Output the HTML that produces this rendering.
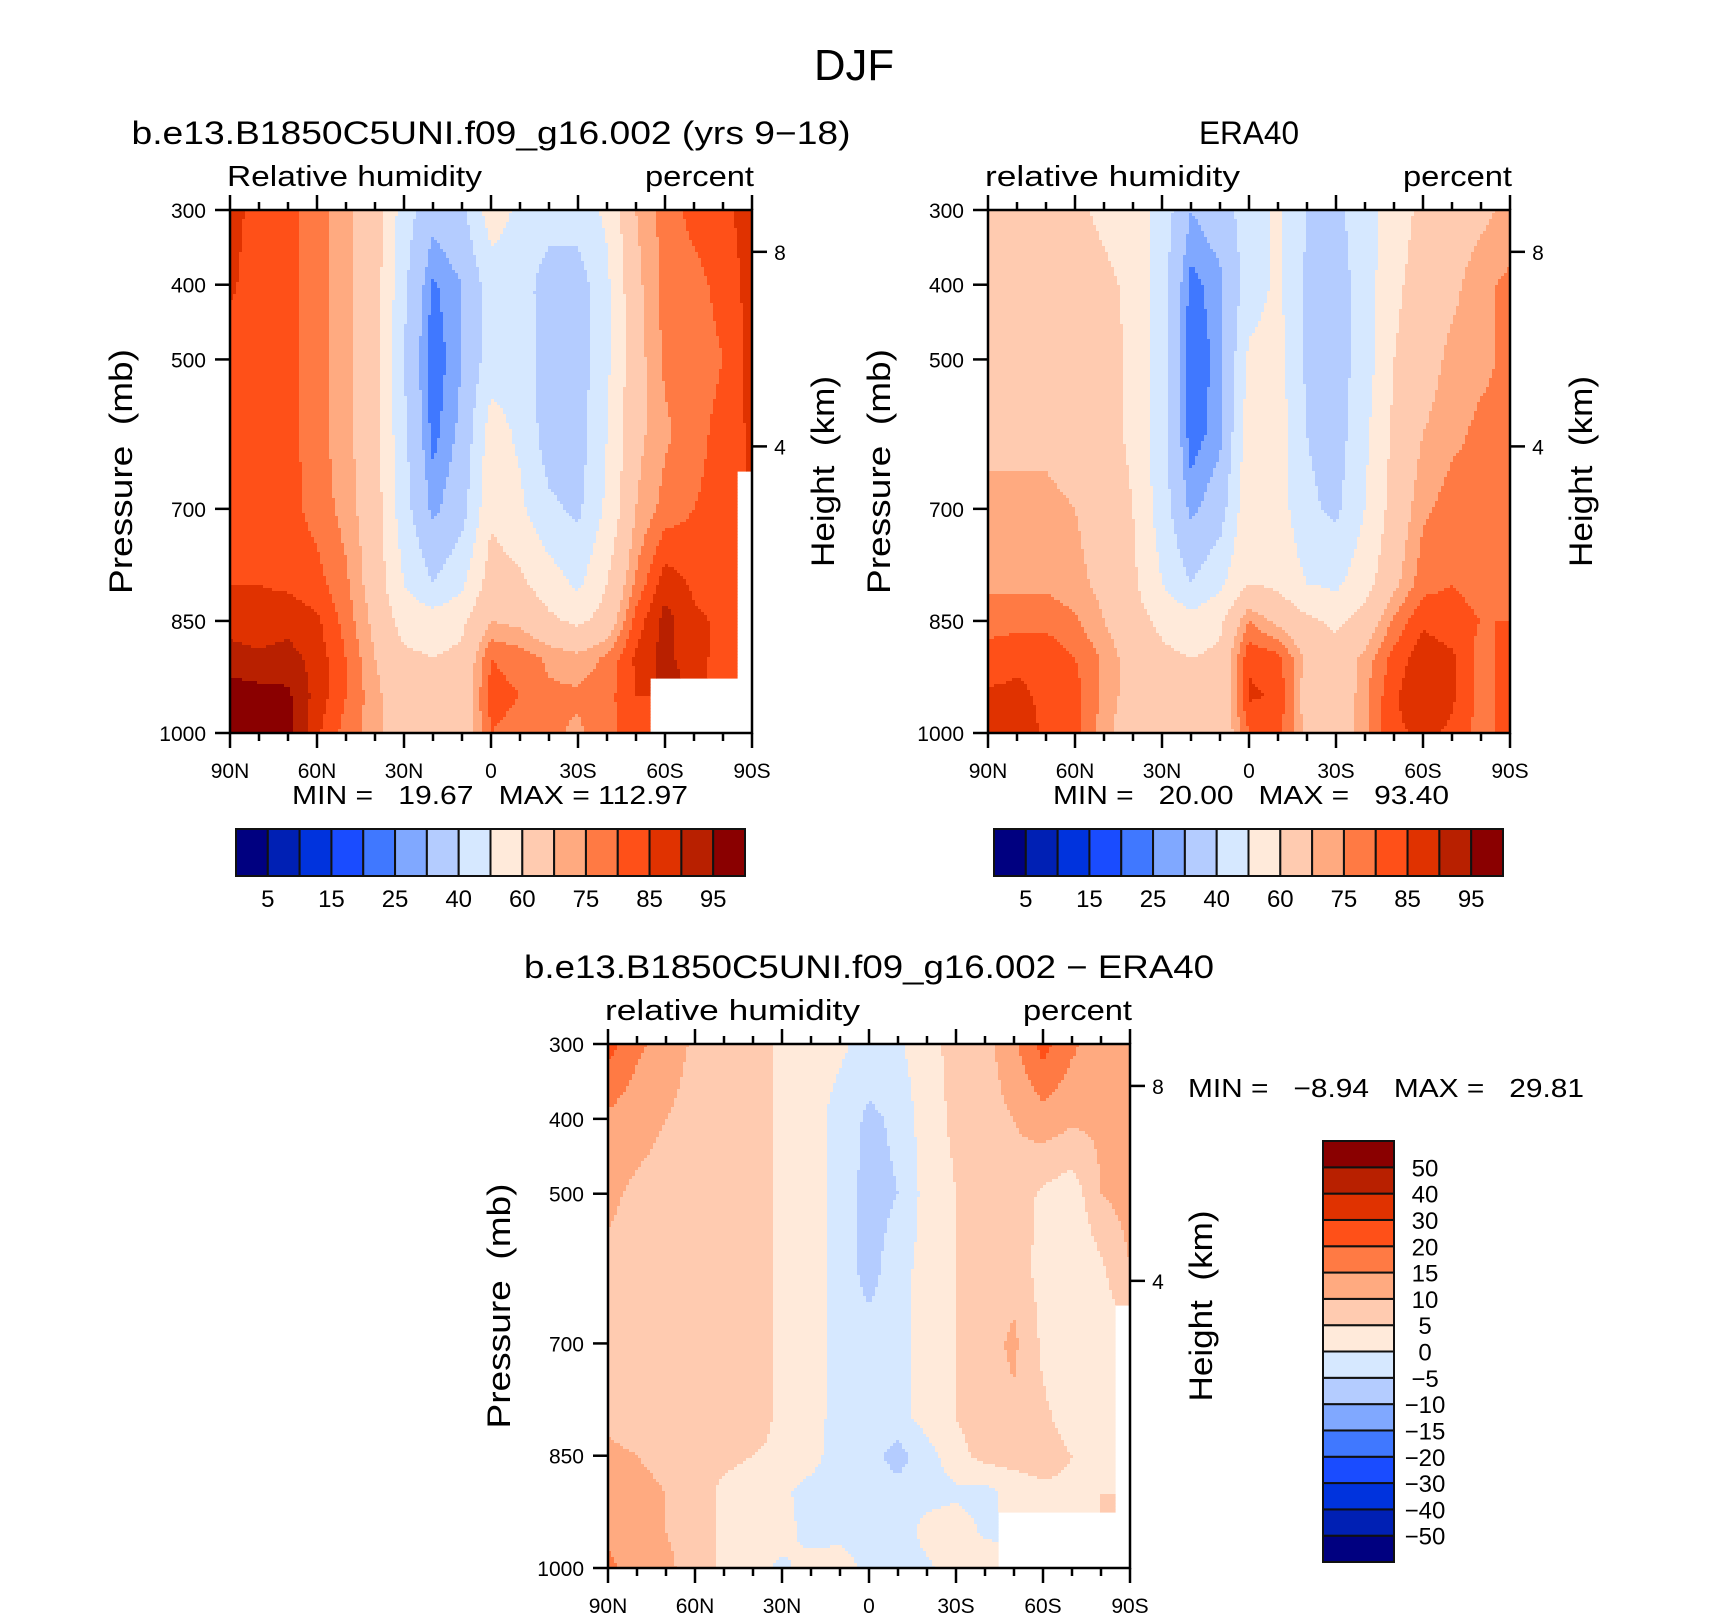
<!DOCTYPE html>
<html><head><meta charset="utf-8">
<style>
html,body{margin:0;padding:0;background:#fff;}
svg{display:block;font-family:"Liberation Sans",sans-serif;}
text{white-space:pre;}
</style></head>
<body>
<svg id="fig" xmlns="http://www.w3.org/2000/svg" width="1710" height="1616" viewBox="0 0 1710 1616">
<rect width="1710" height="1616" fill="#fff"/>
<text x="854" y="80" font-size="44" text-anchor="middle" textLength="80" lengthAdjust="spacingAndGlyphs">DJF</text>
<g id="p1"></g>
<g id="p2"></g>
<g id="p3"></g>
</svg>
<script>
// ---- data ----
const lats = [90,80,70,60,50,40,30,20,10,0,-10,-20,-30,-40,-50,-60,-70,-80,-90];
const plevs = [300,400,500,600,700,800,850,900,950,1000];
const model = [
 [87,83,82,77,72,65,45,33,38,55,48,45,45,52,70,77,82,84,87],
 [86,82,82,77,72,65,42,24,30,45,45,35,35,48,68,77,78,82,87],
 [82,82,82,77,72,64,40,21,30,45,45,35,35,48,67,76,77,80,87],
 [82,82,82,77,72,64,42,23,32,55,48,35,35,50,68,74,78,82,86],
 [82,82,82,78,73,65,44,28,36,58,52,42,38,52,70,77,80,82,null],
 [85,85,84,82,76,66,50,40,48,65,62,55,48,60,76,88,84,83,null],
 [88,87,88,86,78,68,56,55,58,70,68,62,58,64,82,92,86,84,null],
 [92,91,92,88,80,70,62,60,62,80,78,74,72,76,86,92,86,84,null],
 [98,97,96,88,80,72,64,62,64,82,80,76,76,78,85,null,null,null,null],
 [98,98,97,86,78,72,65,62,64,80,78,76,74,78,84,null,null,null,null]
];
const era = [
 [65,65,65,62,58,55,46,30,35,45,52,40,38,45,56,62,65,68,72],
 [65,65,65,65,62,58,44,23,28,45,52,38,35,45,58,64,68,74,76],
 [66,66,66,66,64,58,44,21,27,52,54,38,35,45,60,66,72,74,76],
 [68,68,68,66,64,58,44,22,28,56,55,40,35,48,62,70,74,76,76],
 [72,72,72,70,66,60,45,28,35,58,55,42,38,50,64,74,77,76,78],
 [74,74,74,72,68,62,50,40,48,60,58,50,48,56,68,78,80,78,80],
 [78,78,78,76,70,64,58,54,58,75,68,62,58,64,76,84,82,80,80],
 [82,84,84,80,74,66,62,60,62,84,82,68,64,72,82,88,86,78,82],
 [86,86,84,82,74,66,62,60,62,86,84,66,62,74,84,90,86,78,82],
 [90,88,84,82,72,65,62,62,62,80,82,68,62,74,84,86,84,78,82]
];
const diff = [
 [22,16,13,9,8,7,4,3,1,-2,-1,4,6,8,14,22,16,12,12],
 [14,12,10,8,7,7,4,2,-2,-6,-4,3,6,8,10,13,11,11,12],
 [11,9,8,7,7,7,4,2,-2,-7,-5,2,5,6,8,4,2,10,12],
 [9,8,8,7,7,7,4,2,-2,-7,-2,2,5,6,8,3,0,4,10],
 [8,7,7,7,7,7,4,2,-2,-3,-2,2,5,8,11,4,0,2,null],
 [9,8,8,7,7,7,4,2,-2,-3,-2,2,5,8,9,6,3,4,null],
 [11,10,9,8,6,5,4,2,-3,-3,-7,-2,3,7,7,7,5,4,null],
 [12,11,10,7,4,3,1,-2,-3,-3,-3,-2,-1,-2,2,4,4,5,null],
 [14,12,10,8,4,2,2,-2,-2,-3,-3,2,3,-1,null,null,null,null,null],
 [16,13,11,8,4,2,-1,2,3,-2,-3,-1,3,4,null,null,null,null,null]
];
const rhLevels = [5,10,15,20,25,30,40,50,60,70,75,80,85,90,95];
const rhLabels = ["5","15","25","40","60","75","85","95"];
const dLevels = [-50,-40,-30,-20,-15,-10,-5,0,5,10,15,20,30,40,50];
const dLabels = ["50","40","30","20","15","10","5","0","\u22125","\u221210","\u221215","\u221220","\u221230","\u221240","\u221250"];
const latTicks = [90,60,30,0,-30,-60,-90];
const latTickLabels = ["90N","60N","30N","0","30S","60S","90S"];
const pTicks = [300,400,500,700,850,1000];
const hTicks = [8,4];
const colors = ["#000080","#0020b4","#0033dd","#1a4cff","#4078ff","#80a8ff","#b4ccff","#d6e8ff","#ffeada","#ffcbb0","#ffaa80","#ff7a44","#ff5018","#e03200","#b82000","#8a0000"];

const NS = "http://www.w3.org/2000/svg";
function mk(parent, tag, attrs, txt){
  const e = document.createElementNS(NS, tag);
  for (const k in attrs) e.setAttribute(k, attrs[k]);
  if (txt !== undefined) e.textContent = txt;
  parent.appendChild(e); return e;
}
function colorIdx(v, lev){ let i=0; while(i<lev.length && v>=lev[i]) i++; return i; }
function sample(grid, lat, p){
  let j=0; while(j<lats.length-2 && lat < lats[j+1]) j++;
  let i=0; while(i<plevs.length-2 && p > plevs[i+1]) i++;
  const tx=(lats[j]-lat)/(lats[j]-lats[j+1]);
  const ty=(p-plevs[i])/(plevs[i+1]-plevs[i]);
  const nj = tx<0.5?j:j+1, ni = ty<0.5?i:i+1;
  if (grid[ni][nj]===null) return null;
  const g=(a,b)=>{const v=grid[a][b]; return v===null?grid[ni][nj]:v;};
  const a=g(i,j), b=g(i,j+1), c=g(i+1,j), d=g(i+1,j+1);
  return (a*(1-tx)+b*tx)*(1-ty)+(c*(1-tx)+d*tx)*ty;
}
function txt(g, attrs, s, name, len){
  const t = mk(g,'text',attrs,s);
  if (len){ t.setAttribute('textLength',len); t.setAttribute('lengthAdjust','spacingAndGlyphs'); }
  
  
  return t;
}

function panel(gid, box, grid, lev, title, left, mm){
  const g = document.getElementById(gid);
  const {x0,x1,y0,y1} = box;
  const X = lat => x0 + (90-lat)/180*(x1-x0);
  const Y = p => y0 + (p-300)/700*(y1-y0);
  const field = mk(g,'g',{});
  
  
  const step=3;
  for (let y=y0; y<y1; y+=step){
    const p = 300 + (y+step/2-y0)/(y1-y0)*700;
    let runStart=x0, runC=null;
    const flush=(xe)=>{ if(runC!==null){ const r=mk(field,'rect',{x:runStart,y:y,width:xe-runStart+0.6,height:Math.min(step,y1-y)+0.6,fill:runC});
        
         } };
    for (let x=x0; x<x1; x+=step){
      const lat = 90 - (x+step/2-x0)/(x1-x0)*180;
      const v = sample(grid, lat, p);
      const c = v===null?null:colors[colorIdx(v,lev)];
      if (c!==runC){ flush(x); runStart=x; runC=c; }
    }
    flush(x1);
  }
  const ax = mk(g,'g',{stroke:'#000','stroke-width':2.5,fill:'none'});
  
  
  mk(ax,'rect',{x:x0,y:y0,width:x1-x0,height:y1-y0});
  for (let lat=90; lat>=-90; lat-=10){
    const major = lat%30===0; const L = major?15:8;
    mk(ax,'line',{x1:X(lat),y1:y1,x2:X(lat),y2:y1+L});
    mk(ax,'line',{x1:X(lat),y1:y0,x2:X(lat),y2:y0-L});
  }
  pTicks.forEach(p=>mk(ax,'line',{x1:x0-15,y1:Y(p),x2:x0,y2:Y(p)}));
  hTicks.forEach(h=>{const p=1013.25*Math.pow(1-2.25577e-5*h*1000,5.2559); mk(ax,'line',{x1:x1,y1:Y(p),x2:x1+15,y2:Y(p)});
    txt(g,{x:x1+28,y:Y(p)+8,'font-size':21,'text-anchor':'middle'},String(h),'height-tick-label');});
  latTicks.forEach((lat,k)=>txt(g,{x:X(lat),y:y1+45,'font-size':21,'text-anchor':'middle'},latTickLabels[k],'lat-tick-label'));
  pTicks.forEach(p=>txt(g,{x:x0-24,y:Y(p)+8,'font-size':21,'text-anchor':'end'},String(p),'pressure-tick-label'));
  txt(g,{x:(x0+x1)/2,y:y0-66,'font-size':32,'text-anchor':'middle'},title.text,'panel-title',title.len);
  txt(g,{x:x0-3,y:y0-24,'font-size':29},left,'variable-label',left.length*15);
  txt(g,{x:x1+2,y:y0-24,'font-size':29,'text-anchor':'end'},'percent','units-label',109);
  const yc=(y0+y1)/2;
  txt(g,{x:0,y:0,'font-size':32,'text-anchor':'middle',transform:`translate(${x0-98},${yc}) rotate(-90)`},'Pressure  (mb)','y-axis-title',245);
  txt(g,{x:0,y:0,'font-size':32,'text-anchor':'middle',transform:`translate(${x1+82},${yc}) rotate(-90)`},'Height  (km)','height-axis-title',191);
  txt(g,{x:mm.x,y:mm.y,'font-size':26,'text-anchor':'start'},mm.text,'min-max-label',396);
  return g;
}
function hbar(g, x0, x1, y0, y1, labels){
  const cb = mk(g,'g',{});
   
  const w=(x1-x0)/colors.length;
  colors.forEach((c,k)=>{const r=mk(cb,'rect',{x:x0+k*w,y:y0,width:w,height:y1-y0,fill:c,stroke:'#111','stroke-width':2});
     });
  labels.forEach((l,k)=>txt(cb,{x:x0+(2*k+1)*w,y:y1+31,'font-size':24,'text-anchor':'middle'},l,'colorbar-label'));
}
function vbar(g, x0, x1, y0, y1, labels){
  const cb = mk(g,'g',{});
   
  const n=colors.length, h=(y1-y0)/n;
  colors.forEach((c,k)=>{const r=mk(cb,'rect',{x:x0,y:y1-(k+1)*h,width:x1-x0,height:h,fill:c,stroke:'#111','stroke-width':2});
     });
  labels.forEach((l,k)=>txt(cb,{x:1425,y:y0+(k+1)*h+9,'font-size':24,'text-anchor':'middle'},l,'colorbar-label'));
}
const g1=panel('p1',{x0:230,x1:752,y0:210,y1:733},model,rhLevels,
  {text:'b.e13.B1850C5UNI.f09_g16.002 (yrs 9\u221218)',len:719},'Relative humidity',
  {x:292,y:804,text:'MIN =   19.67   MAX = 112.97'});
hbar(g1,236,745,829,876,rhLabels);
const g2=panel('p2',{x0:988,x1:1510,y0:210,y1:733},era,rhLevels,
  {text:'ERA40',len:100},'relative humidity',
  {x:1053,y:804,text:'MIN =   20.00   MAX =   93.40'});
hbar(g2,994,1503,829,876,rhLabels);
const g3=panel('p3',{x0:608,x1:1130,y0:1044,y1:1568},diff,dLevels,
  {text:'b.e13.B1850C5UNI.f09_g16.002 \u2212 ERA40',len:690},'relative humidity',
  {x:1188,y:1097,text:'MIN =   \u22128.94   MAX =   29.81'});
vbar(g3,1323,1394,1141,1562,dLabels);
</script>
</body></html>
